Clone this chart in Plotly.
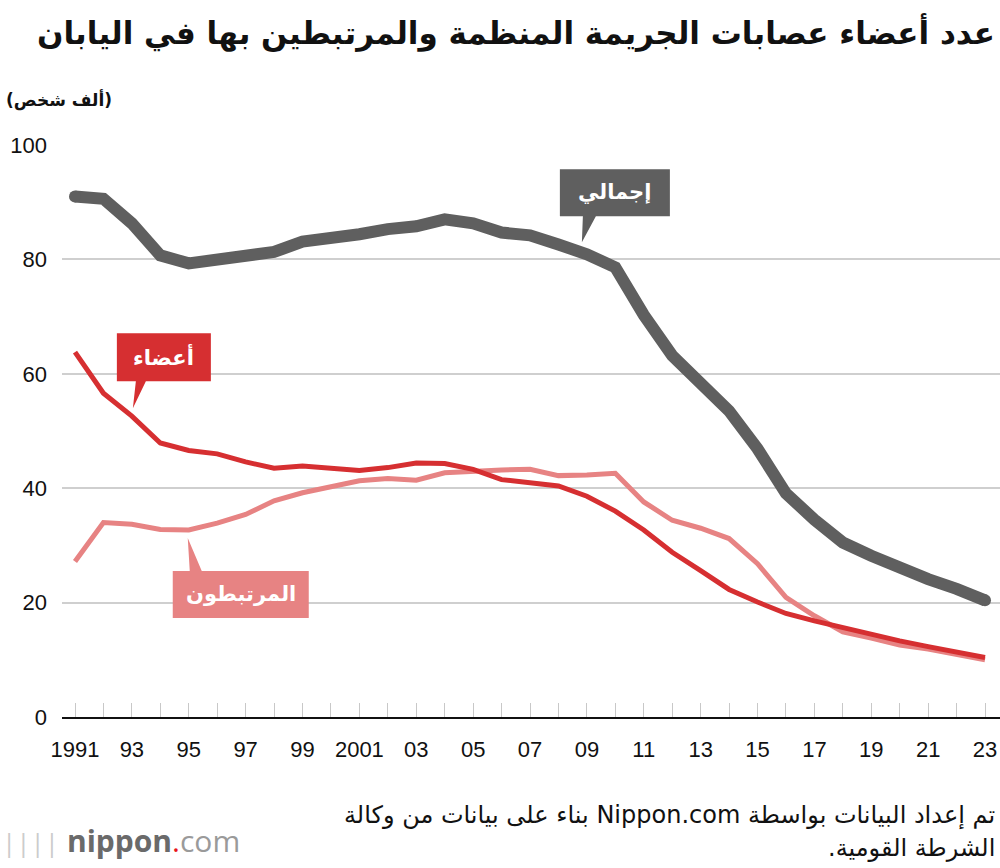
import plotly.graph_objects as go

years = list(range(1991, 2024))
total = [91.0, 90.6, 86.3, 80.7, 79.3, 79.9, 80.2, 81.3, 83.1, 83.6, 84.4, 85.3, 85.8, 87.0, 86.3,
         84.7, 84.2, 82.6, 80.9, 78.6, 70.3, 63.2, 58.6, 53.5, 46.9, 39.1, 34.5, 30.5, 28.2, 25.9,
         24.1, 22.4, 20.4]
members = [63.8, 56.6, 52.6, 47.9, 46.6, 46.0, 44.6, 43.5, 43.9, 43.4, 43.1, 43.6, 44.4, 44.3, 43.3,
           41.5, 40.9, 40.4, 38.6, 36.0, 32.7, 28.8, 25.6, 22.3, 20.1, 18.1, 16.8, 15.6, 14.4, 13.3,
           12.3, 11.4, 10.4]
associates = [27.2, 34.0, 33.7, 32.8, 32.7, 33.9, 35.4, 37.8, 39.2, 40.2, 41.3, 41.7, 41.4, 42.7, 43.0,
              43.2, 43.3, 42.2, 42.3, 42.6, 37.6, 34.4, 33.0, 31.2, 26.8, 20.9, 17.7, 14.9, 13.8, 12.6,
              11.9, 11.0, 10.0]
tick_labels = ["1991", "93", "95", "97", "99", "2001", "03", "05", "07", "09", "11", "13", "15",
               "17", "19", "21", "23"]
y_ticks = [0, 20, 40, 60, 80, 100]

title = "عدد أعضاء عصابات الجريمة المنظمة والمرتبطين بها في اليابان"
unit_label = "(ألف شخص)"
name_total = "إجمالي"
name_members = "أعضاء"
name_assoc = "المرتبطون"
source_1 = "تم إعداد البيانات بواسطة Nippon.com بناء على بيانات من وكالة"
source_2 = "الشرطة القومية."

GRAY = "#5f5f5f"
RED = "#d62f31"
PINK = "#e78383"
AR_FONT = "DejaVu Sans"
NUM_FONT = "Liberation Sans"

RLE, PDF = "\u202b", "\u202c"

W, H = 1000, 868
L, R, T, B = 62, 0, 145, 151
PW, PH = W - L - R, H - T - B


def px(x):
    return (x - L) / PW


def py(y):
    return (H - B - y) / PH


fig = go.Figure()
fig.add_trace(go.Scatter(x=years, y=associates, mode="lines", line=dict(color=PINK, width=5),
                         cliponaxis=False, hoverinfo="skip"))
fig.add_trace(go.Scatter(x=years, y=members, mode="lines", line=dict(color=RED, width=5),
                         cliponaxis=False, hoverinfo="skip"))
fig.add_trace(go.Scatter(x=years, y=total, mode="lines", line=dict(color=GRAY, width=12),
                         cliponaxis=False, hoverinfo="skip"))
# rounded line ends of the total series
fig.add_trace(go.Scatter(x=[years[0], years[-1]], y=[total[0], total[-1]], mode="markers",
                         marker=dict(color=GRAY, size=12, line=dict(width=0)),
                         cliponaxis=False, hoverinfo="skip"))

tickvals_all = years
ticktext_all = []
lab_iter = iter(tick_labels)
for i, yv in enumerate(years):
    ticktext_all.append(next(lab_iter) if i % 2 == 0 else "")

shapes = []
annotations = []


def callout(year, value, path, text_dx, text_dy, color, label):
    shapes.append(dict(type="path", xref="x", yref="y", xsizemode="pixel", ysizemode="pixel",
                       xanchor=year, yanchor=value, path=path, fillcolor=color,
                       line=dict(width=0), layer="above"))
    annotations.append(dict(x=year, y=value, xref="x", yref="y", xshift=text_dx, yshift=text_dy,
                            text=label, showarrow=False, xanchor="center", yanchor="middle",
                            font=dict(family=AR_FONT, size=21, color="white", weight="bold")))


i09 = years.index(2009)
callout(2009, total[i09], "M -27,38 L -4,38 L -5,12 L 9,38 L 83,38 L 83,85 L -27,85 Z",
        28, 62, GRAY, name_total)
i93 = years.index(1993)
callout(1993, members[i93], "M -15,35 L 4,35 L 1,8 L 14,35 L 79,35 L 79,83 L -15,83 Z",
        32, 60, RED, name_members)
i95 = years.index(1995)
callout(1995, associates[i95], "M -16,-41 L 1,-41 L -1,-8 L 13,-41 L 120,-41 L 120,-88 L -16,-88 Z",
        52, -64, PINK, name_assoc)

annotations.append(dict(x=px(997), y=py(32), xref="paper", yref="paper", text=RLE + title + PDF,
                        showarrow=False, xanchor="right", yanchor="middle",
                        font=dict(family=AR_FONT, size=31, color="#111", weight="bold")))
annotations.append(dict(x=px(4), y=py(100), xref="paper", yref="paper", text=unit_label,
                        showarrow=False, xanchor="left", yanchor="middle",
                        font=dict(family=AR_FONT, size=17, color="#111", weight="bold")))
annotations.append(dict(x=px(997), y=py(815), xref="paper", yref="paper", text=RLE + source_1 + PDF,
                        showarrow=False, xanchor="right", yanchor="middle",
                        font=dict(family=AR_FONT, size=24, color="#111")))
annotations.append(dict(x=px(997), y=py(848), xref="paper", yref="paper", text=RLE + source_2 + PDF,
                        showarrow=False, xanchor="right", yanchor="middle",
                        font=dict(family=AR_FONT, size=24, color="#111")))
annotations.append(dict(x=px(0), y=py(841), xref="paper", yref="paper",
                        text="<span style='color:#cccccc;font-size:26px'>||||</span> "
                             "<b><span style='color:#6a6a6a'>nippon</span></b>"
                             "<span style='color:#e8141b'>.</span>"
                             "<span style='color:#9a9a9a'>com</span>",
                        showarrow=False, xanchor="left", yanchor="middle",
                        font=dict(family="Open Sans", size=30, color="#6a6a6a")))

fig.update_layout(
    width=W, height=H,
    margin=dict(l=L, r=R, t=T, b=B, pad=0),
    paper_bgcolor="white", plot_bgcolor="white",
    showlegend=False,
    shapes=shapes, annotations=annotations,
    xaxis=dict(range=[1990.543, 2023.527], tickvals=tickvals_all, ticktext=ticktext_all,
               ticks="inside", ticklen=14, tickwidth=1, tickcolor="#c8c8c8",
               showgrid=False, zeroline=False, showline=True, linecolor="#111", linewidth=2,
               tickfont=dict(family=NUM_FONT, size=22, color="#111"), ticklabelstandoff=12,
               fixedrange=True),
    yaxis=dict(range=[0, 100], tickvals=y_ticks, showgrid=True, gridcolor="#cfcfcf", gridwidth=2,
               zeroline=False, showline=False, ticks="",
               tickfont=dict(family=NUM_FONT, size=22, color="#111"), ticklabelstandoff=14,
               fixedrange=True),
)

fig.write_html("out.html", config={"displayModeBar": False},
               post_script="document.body.style.margin='0';document.body.style.overflow='hidden';")
